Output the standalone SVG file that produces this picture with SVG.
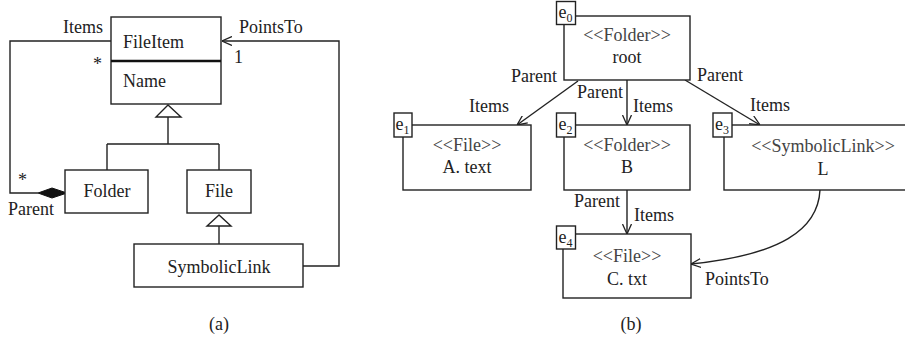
<svg xmlns="http://www.w3.org/2000/svg" width="905" height="343" viewBox="0 0 905 343">
<style>
text{font-family:"Liberation Serif","Times New Roman",serif;font-size:18px;fill:#222}
.st{fill:#444}
.c{text-anchor:middle}
.e{text-anchor:end}
.sub{font-size:12px}
.box{fill:#fff;stroke:#222;stroke-width:1.4}
.ln{fill:none;stroke:#222;stroke-width:1.4}
.tri{fill:#fff;stroke:#222;stroke-width:1.4}
</style>
<defs>
<marker id="open" viewBox="0 0 10 10" refX="10" refY="5" markerWidth="10" markerHeight="10" markerUnits="userSpaceOnUse" orient="auto">
<path d="M0,0.5 L10,5 L0,9.5" fill="none" stroke="#222" stroke-width="1.3"/>
</marker>
</defs>

<!-- (a) class diagram -->
<g id="connectors-a">
<path class="ln" d="M111,41 H10 V193 H38"/>
<polygon points="38,193 52,188 67,193 52,198" fill="#111" stroke="#111" stroke-width="1"/>
<path class="ln" d="M303,266 H339 V41 H222" marker-end="url(#open)"/>
<polygon class="tri" points="168,105 156,117 181,117"/>
<path class="ln" d="M168,117 V144 M107,144 H219 M107,144 V170 M219,144 V170"/>
<polygon class="tri" points="219,215 207,226 231,226"/>
<path class="ln" d="M219,226 V244"/>
<text x="103" y="33" class="e">Items</text>
<text x="239" y="33">PointsTo</text>
<text x="93" y="70">*</text>
<text x="234" y="63">1</text>
<text x="18" y="186">*</text>
<text x="8" y="215">Parent</text>
</g>
<g id="FileItem">
<rect class="box" x="111" y="17" width="110" height="87"/>
<line x1="111" y1="61" x2="221" y2="61" stroke="#111" stroke-width="2.4"/>
<text x="123" y="48">FileItem</text>
<text x="123" y="87">Name</text>
</g>
<g id="Folder">
<rect class="box" x="65" y="170" width="83" height="43"/>
<text x="107" y="197" class="c">Folder</text>
</g>
<g id="File">
<rect class="box" x="187" y="170" width="64" height="43"/>
<text x="219" y="197" class="c">File</text>
</g>
<g id="SymbolicLink">
<rect class="box" x="134" y="244" width="169" height="43"/>
<text x="219" y="273" class="c">SymbolicLink</text>
</g>
<text x="219" y="330" class="c">(a)</text>

<!-- (b) object diagram -->
<g id="connectors-b">
<path class="ln" d="M578,81 L517,125" marker-end="url(#open)"/>
<path class="ln" d="M627,80 V125" marker-end="url(#open)"/>
<path class="ln" d="M685,80 L760,125" marker-end="url(#open)"/>
<path class="ln" d="M627,190 V234" marker-end="url(#open)"/>
<path class="ln" d="M820,190 C818,230 780,255 691,264" marker-end="url(#open)"/>
<text x="557" y="82" class="e">Parent</text>
<text x="469" y="112">Items</text>
<text x="623" y="98" class="e">Parent</text>
<text x="633" y="112">Items</text>
<text x="697" y="81">Parent</text>
<text x="750" y="111">Items</text>
<text x="620" y="207" class="e">Parent</text>
<text x="634" y="221">Items</text>
<text x="705" y="285">PointsTo</text>
</g>
<g id="e0">
<rect class="box" x="564" y="16" width="126" height="64"/>
<text x="627" y="41" class="c st">&lt;&lt;Folder&gt;&gt;</text>
<text x="627" y="63" class="c">root</text>
<rect class="box" x="556.5" y="1.5" width="19" height="23"/>
<text x="558.5" y="18">e<tspan class="sub" dy="4">0</tspan></text>
</g>
<g id="e1">
<rect class="box" x="403" y="125" width="128" height="65"/>
<text x="467" y="151" class="c st">&lt;&lt;File&gt;&gt;</text>
<text x="467" y="173" class="c">A. text</text>
<rect class="box" x="394" y="113" width="18" height="24"/>
<text x="395.5" y="130">e<tspan class="sub" dy="4">1</tspan></text>
</g>
<g id="e2">
<rect class="box" x="564" y="125" width="126" height="65"/>
<text x="627" y="151" class="c st">&lt;&lt;Folder&gt;&gt;</text>
<text x="627" y="173" class="c">B</text>
<rect class="box" x="556.5" y="113" width="19" height="24"/>
<text x="558.5" y="130">e<tspan class="sub" dy="4">2</tspan></text>
</g>
<g id="e3">
<rect class="box" x="724" y="125" width="200" height="65"/>
<text x="823" y="152" class="c st">&lt;&lt;SymbolicLink&gt;&gt;</text>
<text x="823" y="175" class="c">L</text>
<rect class="box" x="713" y="113" width="19" height="24"/>
<text x="715" y="130">e<tspan class="sub" dy="4">3</tspan></text>
</g>
<g id="e4">
<rect class="box" x="563" y="234" width="128" height="64"/>
<text x="627" y="262" class="c st">&lt;&lt;File&gt;&gt;</text>
<text x="627" y="285" class="c">C. txt</text>
<rect class="box" x="556.5" y="226" width="19" height="23"/>
<text x="558.5" y="243">e<tspan class="sub" dy="4">4</tspan></text>
</g>
<text x="631" y="330" class="c">(b)</text>
</svg>
